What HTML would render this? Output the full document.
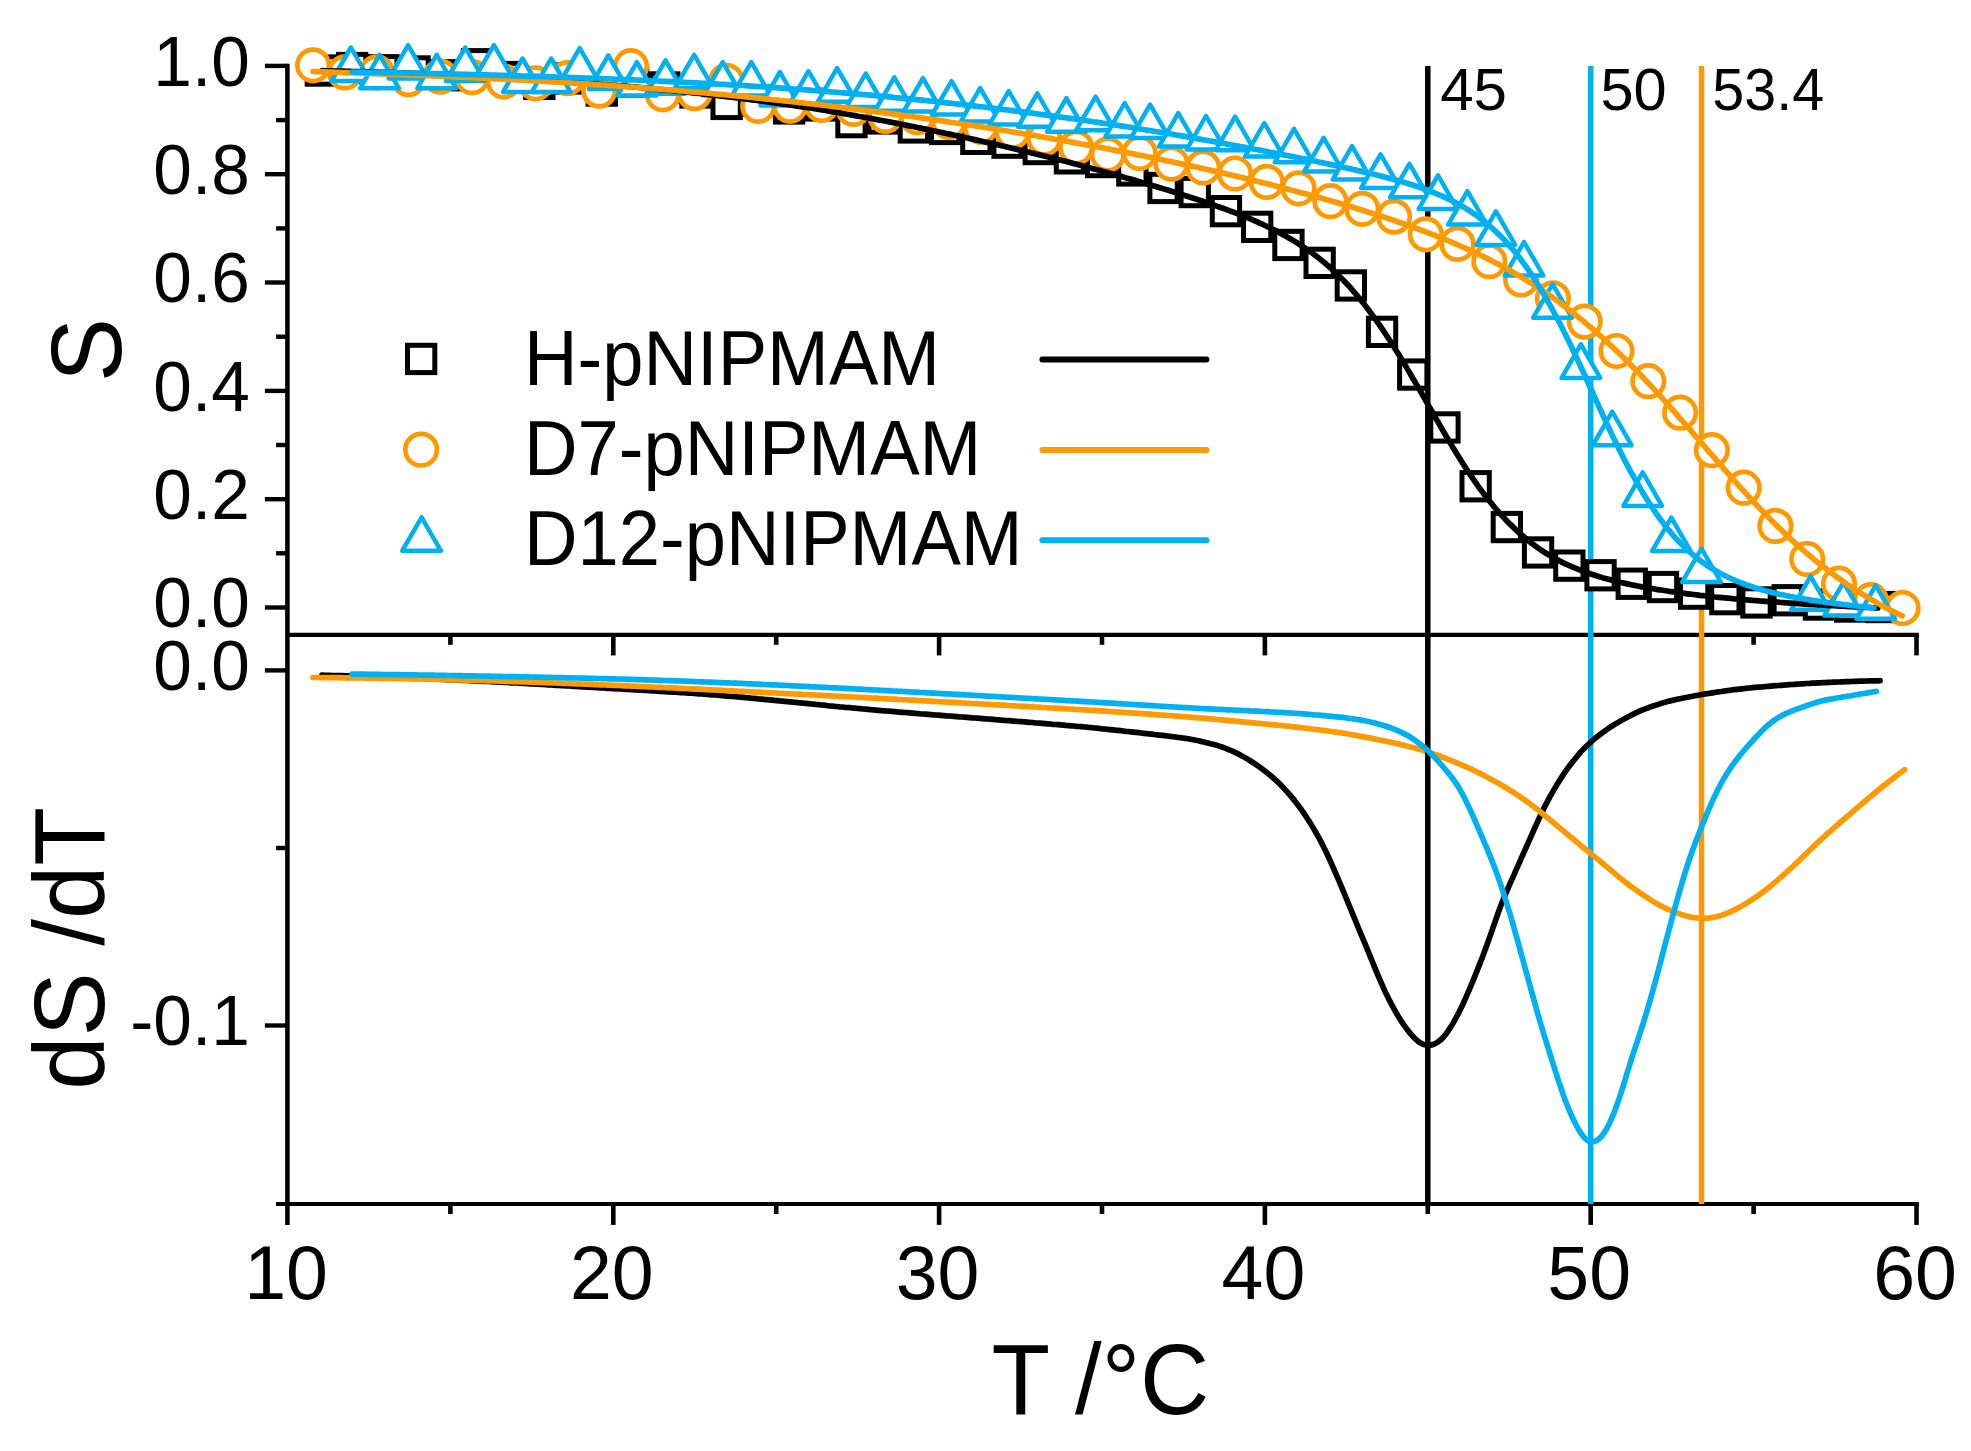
<!DOCTYPE html>
<html lang="en"><head><meta charset="utf-8"><title>S and dS/dT vs T</title>
<style>html,body{margin:0;padding:0;background:#fff}svg{display:block}</style></head>
<body>
<svg width="1971" height="1451" viewBox="0 0 1971 1451">
<rect width="1971" height="1451" fill="#fff"/>
<g stroke="#000" fill="none"><line x1="287.4" y1="63.7" x2="287.4" y2="1224.9" stroke-width="4.55"/><line x1="264.9" y1="607.5" x2="287.4" y2="607.5" stroke-width="4.4"/><line x1="276.1" y1="553.3" x2="287.4" y2="553.3" stroke-width="4.4"/><line x1="264.9" y1="499.2" x2="287.4" y2="499.2" stroke-width="4.4"/><line x1="276.1" y1="445" x2="287.4" y2="445" stroke-width="4.4"/><line x1="264.9" y1="390.9" x2="287.4" y2="390.9" stroke-width="4.4"/><line x1="276.1" y1="336.7" x2="287.4" y2="336.7" stroke-width="4.4"/><line x1="264.9" y1="282.5" x2="287.4" y2="282.5" stroke-width="4.4"/><line x1="276.1" y1="228.4" x2="287.4" y2="228.4" stroke-width="4.4"/><line x1="264.9" y1="174.2" x2="287.4" y2="174.2" stroke-width="4.4"/><line x1="276.1" y1="120.1" x2="287.4" y2="120.1" stroke-width="4.4"/><line x1="264.9" y1="65.9" x2="287.4" y2="65.9" stroke-width="4.4"/><line x1="264.9" y1="670.4" x2="287.4" y2="670.4" stroke-width="4.4"/><line x1="276.1" y1="848" x2="287.4" y2="848" stroke-width="4.4"/><line x1="264.9" y1="1025.5" x2="287.4" y2="1025.5" stroke-width="4.4"/><line x1="287.4" y1="634.9" x2="1918.8" y2="634.9" stroke-width="4.1"/><line x1="276.05" y1="1203.95" x2="1918.8" y2="1203.95" stroke-width="4.05"/><line x1="450.4" y1="634.9" x2="450.4" y2="644.8" stroke-width="4.6"/><line x1="450.4" y1="1203.95" x2="450.4" y2="1214.0" stroke-width="4.6"/><line x1="613.3" y1="634.9" x2="613.3" y2="655.4" stroke-width="4.6"/><line x1="613.3" y1="1203.95" x2="613.3" y2="1224.9" stroke-width="4.6"/><line x1="776.2" y1="634.9" x2="776.2" y2="644.8" stroke-width="4.6"/><line x1="776.2" y1="1203.95" x2="776.2" y2="1214.0" stroke-width="4.6"/><line x1="939.1" y1="634.9" x2="939.1" y2="655.4" stroke-width="4.6"/><line x1="939.1" y1="1203.95" x2="939.1" y2="1224.9" stroke-width="4.6"/><line x1="1102" y1="634.9" x2="1102" y2="644.8" stroke-width="4.6"/><line x1="1102" y1="1203.95" x2="1102" y2="1214.0" stroke-width="4.6"/><line x1="1264.9" y1="634.9" x2="1264.9" y2="655.4" stroke-width="4.6"/><line x1="1264.9" y1="1203.95" x2="1264.9" y2="1224.9" stroke-width="4.6"/><line x1="1427.8" y1="634.9" x2="1427.8" y2="644.8" stroke-width="4.6"/><line x1="1427.8" y1="1203.95" x2="1427.8" y2="1214.0" stroke-width="4.6"/><line x1="1590.7" y1="634.9" x2="1590.7" y2="655.4" stroke-width="4.6"/><line x1="1590.7" y1="1203.95" x2="1590.7" y2="1224.9" stroke-width="4.6"/><line x1="1753.6" y1="634.9" x2="1753.6" y2="644.8" stroke-width="4.6"/><line x1="1753.6" y1="1203.95" x2="1753.6" y2="1214.0" stroke-width="4.6"/><line x1="1916.5" y1="634.9" x2="1916.5" y2="655.4" stroke-width="4.6"/><line x1="1916.5" y1="1203.95" x2="1916.5" y2="1224.9" stroke-width="4.6"/></g>
<line x1="1590.7" y1="66" x2="1590.7" y2="1204" stroke="#00B0F0" stroke-width="5.5"/>
<line x1="1701.5" y1="66" x2="1701.5" y2="1204" stroke="#FF9900" stroke-width="5.5"/>
<line x1="1427.8" y1="66" x2="1427.8" y2="634.9" stroke="#000000" stroke-width="5.5"/>
<g fill="#fff" stroke="#000000" stroke-width="5"><rect x="307.2" y="56.9" width="27.3" height="27.3"/><rect x="338.5" y="54.4" width="27.3" height="27.3"/><rect x="369.7" y="56.6" width="27.3" height="27.3"/><rect x="400.9" y="57.8" width="27.3" height="27.3"/><rect x="432.1" y="61.6" width="27.3" height="27.3"/><rect x="463.3" y="50.6" width="27.3" height="27.3"/><rect x="494.5" y="63.4" width="27.3" height="27.3"/><rect x="525.7" y="70.2" width="27.3" height="27.3"/><rect x="556.9" y="64.8" width="27.3" height="27.3"/><rect x="588.1" y="76.9" width="27.3" height="27.3"/><rect x="619.4" y="67.8" width="27.3" height="27.3"/><rect x="650.6" y="73.8" width="27.3" height="27.3"/><rect x="681.8" y="78.8" width="27.3" height="27.3"/><rect x="713" y="90.3" width="27.3" height="27.3"/><rect x="744.2" y="86.9" width="27.3" height="27.3"/><rect x="775.4" y="94.8" width="27.3" height="27.3"/><rect x="806.6" y="91.8" width="27.3" height="27.3"/><rect x="837.8" y="108.5" width="27.3" height="27.3"/><rect x="869" y="104.8" width="27.3" height="27.3"/><rect x="900.2" y="113.8" width="27.3" height="27.3"/><rect x="931.5" y="115.3" width="27.3" height="27.3"/><rect x="962.7" y="125.2" width="27.3" height="27.3"/><rect x="993.9" y="129" width="27.3" height="27.3"/><rect x="1025.1" y="135.4" width="27.3" height="27.3"/><rect x="1056.3" y="144.7" width="27.3" height="27.3"/><rect x="1087.5" y="148.4" width="27.3" height="27.3"/><rect x="1118.7" y="156.8" width="27.3" height="27.3"/><rect x="1149.9" y="174.3" width="27.3" height="27.3"/><rect x="1181.1" y="178.4" width="27.3" height="27.3"/><rect x="1212.3" y="197.5" width="27.3" height="27.3"/><rect x="1243.5" y="213.2" width="27.3" height="27.3"/><rect x="1274.8" y="231.3" width="27.3" height="27.3"/><rect x="1306" y="249.2" width="27.3" height="27.3"/><rect x="1337.2" y="271.8" width="27.3" height="27.3"/><rect x="1368.4" y="318.2" width="27.3" height="27.3"/><rect x="1399.6" y="360.9" width="27.3" height="27.3"/><rect x="1430.8" y="413.8" width="27.3" height="27.3"/><rect x="1462" y="472.6" width="27.3" height="27.3"/><rect x="1493.2" y="513.4" width="27.3" height="27.3"/><rect x="1524.4" y="538.8" width="27.3" height="27.3"/><rect x="1555.7" y="552" width="27.3" height="27.3"/><rect x="1586.9" y="561.6" width="27.3" height="27.3"/><rect x="1618.1" y="570.1" width="27.3" height="27.3"/><rect x="1649.3" y="573.4" width="27.3" height="27.3"/><rect x="1680.5" y="580" width="27.3" height="27.3"/><rect x="1711.7" y="585.5" width="27.3" height="27.3"/><rect x="1742.9" y="588.8" width="27.3" height="27.3"/><rect x="1774.1" y="586.6" width="27.3" height="27.3"/><rect x="1805.3" y="590.9" width="27.3" height="27.3"/><rect x="1836.5" y="592.9" width="27.3" height="27.3"/><rect x="1867.8" y="593.4" width="27.3" height="27.3"/></g>
<g fill="#fff" stroke="#FF9900" stroke-width="4.7"><circle cx="313.1" cy="65.3" r="15.75"/><circle cx="344.9" cy="72.4" r="15.75"/><circle cx="376.7" cy="72.3" r="15.75"/><circle cx="408.5" cy="79.1" r="15.75"/><circle cx="440.3" cy="76.6" r="15.75"/><circle cx="472.1" cy="77.2" r="15.75"/><circle cx="503.8" cy="81.5" r="15.75"/><circle cx="535.6" cy="83.3" r="15.75"/><circle cx="567.4" cy="78.1" r="15.75"/><circle cx="599.2" cy="90.6" r="15.75"/><circle cx="631" cy="66.2" r="15.75"/><circle cx="662.8" cy="94.3" r="15.75"/><circle cx="694.6" cy="93.1" r="15.75"/><circle cx="726.4" cy="80.8" r="15.75"/><circle cx="758.2" cy="105.9" r="15.75"/><circle cx="790" cy="105.8" r="15.75"/><circle cx="821.7" cy="105" r="15.75"/><circle cx="853.5" cy="108.9" r="15.75"/><circle cx="885.3" cy="115.9" r="15.75"/><circle cx="917.1" cy="117.3" r="15.75"/><circle cx="948.9" cy="121.9" r="15.75"/><circle cx="980.7" cy="126.8" r="15.75"/><circle cx="1012.5" cy="131.9" r="15.75"/><circle cx="1044.3" cy="138.5" r="15.75"/><circle cx="1076.1" cy="147.6" r="15.75"/><circle cx="1107.8" cy="154.5" r="15.75"/><circle cx="1139.6" cy="153" r="15.75"/><circle cx="1171.4" cy="163.6" r="15.75"/><circle cx="1203.2" cy="167.4" r="15.75"/><circle cx="1235" cy="173.5" r="15.75"/><circle cx="1266.8" cy="181.9" r="15.75"/><circle cx="1298.6" cy="188.3" r="15.75"/><circle cx="1330.4" cy="201.2" r="15.75"/><circle cx="1362.2" cy="208.8" r="15.75"/><circle cx="1394" cy="216.6" r="15.75"/><circle cx="1425.8" cy="234.3" r="15.75"/><circle cx="1457.5" cy="243.9" r="15.75"/><circle cx="1489.3" cy="261.2" r="15.75"/><circle cx="1521.1" cy="279.4" r="15.75"/><circle cx="1552.9" cy="298.4" r="15.75"/><circle cx="1584.7" cy="321.6" r="15.75"/><circle cx="1616.5" cy="351" r="15.75"/><circle cx="1648.3" cy="381.2" r="15.75"/><circle cx="1680.1" cy="412.7" r="15.75"/><circle cx="1711.9" cy="450.2" r="15.75"/><circle cx="1743.7" cy="487.7" r="15.75"/><circle cx="1775.4" cy="525.9" r="15.75"/><circle cx="1807.2" cy="559" r="15.75"/><circle cx="1839" cy="583.7" r="15.75"/><circle cx="1870.8" cy="600.2" r="15.75"/><circle cx="1902.6" cy="608" r="15.75"/></g>
<g fill="#fff" stroke="#00B0F0" stroke-width="4.5" stroke-linejoin="round"><path d="M350.9 47.5L370.2 81L331.5 81Z"/><path d="M379.5 54.8L398.9 88.3L360.1 88.3Z"/><path d="M408.1 45.1L427.4 78.6L388.7 78.6Z"/><path d="M436.7 54.8L456.1 88.3L417.3 88.3Z"/><path d="M465.3 47.5L484.6 81L445.9 81Z"/><path d="M493.9 45.1L513.2 78.6L474.5 78.6Z"/><path d="M522.5 58.5L541.9 92L503.1 92Z"/><path d="M551.1 58.5L570.5 92L531.8 92Z"/><path d="M579.7 48.1L599.1 81.6L560.4 81.6Z"/><path d="M608.3 55.4L627.6 88.9L588.9 88.9Z"/><path d="M636.9 62.1L656.2 95.6L617.5 95.6Z"/><path d="M665.5 60.3L684.9 93.8L646.1 93.8Z"/><path d="M694.1 54.8L713.5 88.3L674.8 88.3Z"/><path d="M722.7 62.1L742.1 95.6L703.4 95.6Z"/><path d="M751.3 62.1L770.6 95.6L731.9 95.6Z"/><path d="M779.9 72L799.2 105.5L760.5 105.5Z"/><path d="M808.5 71.2L827.9 104.7L789.1 104.7Z"/><path d="M837.1 68.2L856.5 101.7L817.8 101.7Z"/><path d="M865.7 73.5L885.1 107L846.4 107Z"/><path d="M894.3 77.3L913.6 110.8L874.9 110.8Z"/><path d="M922.9 78.1L942.2 111.6L903.5 111.6Z"/><path d="M951.5 81.1L970.9 114.6L932.1 114.6Z"/><path d="M980.1 88L999.5 121.5L960.8 121.5Z"/><path d="M1008.7 91L1028 124.5L989.4 124.5Z"/><path d="M1037.3 93.3L1056.7 126.8L1018 126.8Z"/><path d="M1066.4 98.2L1085.8 131.7L1047.1 131.7Z"/><path d="M1095.6 96.7L1114.9 130.2L1076.2 130.2Z"/><path d="M1124.7 103L1144 136.5L1105.4 136.5Z"/><path d="M1150.1 104.6L1169.4 138.1L1130.8 138.1Z"/><path d="M1178.3 113.1L1197.6 146.6L1159 146.6Z"/><path d="M1206 116L1225.3 149.5L1186.7 149.5Z"/><path d="M1235.1 116.7L1254.4 150.2L1215.8 150.2Z"/><path d="M1264.3 123L1283.6 156.5L1245 156.5Z"/><path d="M1294 128.8L1313.3 162.3L1274.7 162.3Z"/><path d="M1323.6 137.9L1342.9 171.4L1304.2 171.4Z"/><path d="M1352 146.1L1371.3 179.6L1332.7 179.6Z"/><path d="M1380.6 154.4L1399.9 187.9L1361.2 187.9Z"/><path d="M1409.4 163.8L1428.8 197.3L1390.1 197.3Z"/><path d="M1438 175.4L1457.3 208.9L1418.7 208.9Z"/><path d="M1467.4 191.1L1486.8 224.6L1448.1 224.6Z"/><path d="M1495.9 211.4L1515.2 244.9L1476.6 244.9Z"/><path d="M1524 242L1543.3 275.5L1504.7 275.5Z"/><path d="M1552.6 284.2L1571.9 317.7L1533.2 317.7Z"/><path d="M1580.9 344.4L1600.2 377.9L1561.6 377.9Z"/><path d="M1612.2 411.7L1631.5 445.2L1592.9 445.2Z"/><path d="M1642.7 472.4L1662 505.9L1623.4 505.9Z"/><path d="M1671.3 517.6L1690.6 551.1L1652 551.1Z"/><path d="M1701.5 548.5L1720.8 582L1682.2 582Z"/><path d="M1810.6 576.3L1829.9 609.8L1791.2 609.8Z"/><path d="M1843.5 582.1L1862.8 615.6L1824.2 615.6Z"/><path d="M1875.7 585.3L1895 618.8L1856.4 618.8Z"/></g>
<path d="M322 70.7L325.1 70.8L328.2 70.8L331.4 70.9L334.5 71L337.6 71.1L340.7 71.1L343.8 71.2L346.9 71.3L350.1 71.4L353.2 71.5L356.3 71.5L359.4 71.6L362.5 71.7L365.6 71.8L368.8 71.9L371.9 72L375 72.1L378.1 72.2L381.2 72.3L384.4 72.4L387.5 72.5L390.6 72.6L393.7 72.7L396.8 72.8L399.9 72.9L403.1 73L406.2 73.1L409.3 73.2L412.4 73.3L415.5 73.4L418.6 73.5L421.8 73.6L424.9 73.8L428 73.9L431.1 74L434.2 74.1L437.3 74.3L440.5 74.4L443.6 74.5L446.7 74.6L449.8 74.8L452.9 74.9L456.1 75.1L459.2 75.2L462.3 75.3L465.4 75.5L468.5 75.6L471.6 75.8L474.8 75.9L477.9 76.1L481 76.2L484.1 76.4L487.2 76.6L490.3 76.7L493.5 76.9L496.6 77.1L499.7 77.2L502.8 77.4L505.9 77.6L509.1 77.7L512.2 77.9L515.3 78.1L518.4 78.3L521.5 78.5L524.6 78.7L527.8 78.9L530.9 79.1L534 79.3L537.1 79.5L540.2 79.7L543.3 79.9L546.5 80.1L549.6 80.3L552.7 80.5L555.8 80.7L558.9 80.9L562.1 81.1L565.2 81.4L568.3 81.6L571.4 81.8L574.5 82.1L577.6 82.3L580.8 82.5L583.9 82.8L587 83L590.1 83.2L593.2 83.5L596.3 83.7L599.5 84L602.6 84.3L605.7 84.5L608.8 84.8L611.9 85L615.1 85.3L618.2 85.6L621.3 85.8L624.4 86.1L627.5 86.4L630.6 86.7L633.8 86.9L636.9 87.2L640 87.5L643.1 87.8L646.2 88.1L649.3 88.4L652.5 88.7L655.6 89L658.7 89.3L661.8 89.6L664.9 89.9L668 90.2L671.2 90.5L674.3 90.8L677.4 91.2L680.5 91.5L683.6 91.8L686.8 92.1L689.9 92.5L693 92.8L696.1 93.1L699.2 93.5L702.3 93.8L705.5 94.2L708.6 94.5L711.7 94.9L714.8 95.2L717.9 95.6L721 95.9L724.2 96.3L727.3 96.7L730.4 97.1L733.5 97.4L736.6 97.8L739.8 98.2L742.9 98.6L746 99L749.1 99.4L752.2 99.8L755.3 100.2L758.5 100.6L761.6 101L764.7 101.5L767.8 101.9L770.9 102.3L774 102.8L777.2 103.2L780.3 103.6L783.4 104.1L786.5 104.5L789.6 105L792.8 105.5L795.9 105.9L799 106.4L802.1 106.9L805.2 107.3L808.3 107.8L811.5 108.3L814.6 108.8L817.7 109.3L820.8 109.8L823.9 110.3L827 110.8L830.2 111.3L833.3 111.9L836.4 112.4L839.5 112.9L842.6 113.4L845.7 114L848.9 114.5L852 115.1L855.1 115.6L858.2 116.2L861.3 116.7L864.5 117.3L867.6 117.9L870.7 118.4L873.8 119L876.9 119.6L880 120.2L883.2 120.8L886.3 121.3L889.4 121.9L892.5 122.5L895.6 123.1L898.7 123.7L901.9 124.4L905 125L908.1 125.6L911.2 126.2L914.3 126.8L917.5 127.5L920.6 128.1L923.7 128.7L926.8 129.4L929.9 130L933 130.7L936.2 131.3L939.3 132L942.4 132.6L945.5 133.3L948.6 133.9L951.7 134.6L954.9 135.3L958 135.9L961.1 136.6L964.2 137.3L967.3 138L970.5 138.7L973.6 139.4L976.7 140.1L979.8 140.8L982.9 141.5L986 142.2L989.2 142.9L992.3 143.6L995.4 144.3L998.5 145L1001.6 145.8L1004.7 146.5L1007.9 147.2L1011 148L1014.1 148.7L1017.2 149.4L1020.3 150.2L1023.5 150.9L1026.6 151.7L1029.7 152.4L1032.8 153.2L1035.9 154L1039 154.7L1042.2 155.5L1045.3 156.3L1048.4 157.1L1051.5 157.8L1054.6 158.6L1057.7 159.4L1060.9 160.2L1064 161L1067.1 161.8L1070.2 162.6L1073.3 163.4L1076.4 164.2L1079.6 165.1L1082.7 165.9L1085.8 166.7L1088.9 167.5L1092 168.4L1095.2 169.2L1098.3 170L1101.4 170.9L1104.5 171.7L1107.6 172.6L1110.7 173.5L1113.9 174.3L1117 175.2L1120.1 176.1L1123.2 177L1126.3 177.9L1129.4 178.7L1132.6 179.6L1135.7 180.5L1138.8 181.4L1141.9 182.4L1145 183.3L1148.2 184.2L1151.3 185.1L1154.4 186.1L1157.5 187L1160.6 187.9L1163.7 188.9L1166.9 189.8L1170 190.8L1173.1 191.8L1176.2 192.7L1179.3 193.7L1182.4 194.7L1185.6 195.7L1188.7 196.7L1191.8 197.7L1194.9 198.7L1198 199.7L1201.2 200.8L1204.3 201.8L1207.4 202.8L1210.5 203.9L1213.6 205L1216.7 206.1L1219.9 207.2L1223 208.3L1226.1 209.4L1229.2 210.6L1232.3 211.7L1235.4 212.9L1238.6 214.1L1241.7 215.4L1244.8 216.6L1247.9 217.9L1251 219.2L1254.2 220.6L1257.3 221.9L1260.4 223.3L1263.5 224.8L1266.6 226.3L1269.7 227.8L1272.9 229.3L1276 230.9L1279.1 232.5L1282.2 234.2L1285.3 235.9L1288.4 237.7L1291.6 239.5L1294.7 241.4L1297.8 243.3L1300.9 245.3L1304 247.3L1307.1 249.5L1310.3 251.7L1313.4 253.9L1316.5 256.3L1319.6 258.7L1322.7 261.2L1325.9 263.8L1329 266.5L1332.1 269.3L1335.2 272.2L1338.3 275.2L1341.4 278.3L1344.6 281.5L1347.7 284.8L1350.8 288.2L1353.9 291.8L1357 295.4L1360.1 299.2L1363.3 303.1L1366.4 307.1L1369.5 311.2L1372.6 315.4L1375.7 319.7L1378.9 324.1L1382 328.6L1385.1 333.3L1388.2 338L1391.3 342.8L1394.4 347.7L1397.6 352.7L1400.7 357.8L1403.8 362.9L1406.9 368.1L1410 373.4L1413.1 378.7L1416.3 384.1L1419.4 389.5L1422.5 394.9L1425.6 400.4L1428.7 405.9L1431.9 411.3L1435 416.8L1438.1 422.2L1441.2 427.6L1444.3 433L1447.4 438.3L1450.6 443.6L1453.7 448.7L1456.8 453.8L1459.9 458.8L1463 463.7L1466.1 468.6L1469.3 473.3L1472.4 477.9L1475.5 482.4L1478.6 486.8L1481.7 491L1484.8 495.2L1488 499.2L1491.1 503.1L1494.2 506.9L1497.3 510.5L1500.4 514L1503.6 517.4L1506.7 520.7L1509.8 523.9L1512.9 526.9L1516 529.9L1519.1 532.8L1522.3 535.5L1525.4 538.2L1528.5 540.7L1531.6 543.2L1534.7 545.6L1537.8 547.8L1541 550L1544.1 552L1547.2 554L1550.3 555.8L1553.4 557.6L1556.6 559.4L1559.7 561L1562.8 562.6L1565.9 564.1L1569 565.5L1572.1 566.9L1575.3 568.2L1578.4 569.4L1581.5 570.6L1584.6 571.8L1587.7 572.9L1590.8 574L1594 575L1597.1 576L1600.2 576.9L1603.3 577.9L1606.4 578.7L1609.6 579.6L1612.7 580.4L1615.8 581.2L1618.9 582L1622 582.7L1625.1 583.4L1628.3 584.1L1631.4 584.8L1634.5 585.4L1637.6 586L1640.7 586.6L1643.8 587.2L1647 587.8L1650.1 588.3L1653.2 588.8L1656.3 589.4L1659.4 589.8L1662.6 590.3L1665.7 590.8L1668.8 591.3L1671.9 591.7L1675 592.1L1678.1 592.6L1681.3 593L1684.4 593.4L1687.5 593.8L1690.6 594.2L1693.7 594.5L1696.8 594.9L1700 595.3L1703.1 595.6L1706.2 596L1709.3 596.3L1712.4 596.6L1715.5 597L1718.7 597.3L1721.8 597.6L1724.9 597.9L1728 598.2L1731.1 598.5L1734.3 598.8L1737.4 599L1740.5 599.3L1743.6 599.6L1746.7 599.8L1749.8 600.1L1753 600.4L1756.1 600.6L1759.2 600.9L1762.3 601.1L1765.4 601.3L1768.5 601.6L1771.7 601.8L1774.8 602L1777.9 602.2L1781 602.5L1784.1 602.7L1787.3 602.9L1790.4 603.1L1793.5 603.3L1796.6 603.5L1799.7 603.7L1802.8 603.9L1806 604.1L1809.1 604.3L1812.2 604.5L1815.3 604.7L1818.4 604.8L1821.5 605L1824.7 605.2L1827.8 605.4L1830.9 605.6L1834 605.7L1837.1 605.9L1840.3 606.1L1843.4 606.2L1846.5 606.4L1849.6 606.6L1852.7 606.7L1855.8 606.9L1859 607L1862.1 607.2L1865.2 607.4L1868.3 607.5L1871.4 607.7L1874.5 607.8L1877.7 608" fill="none" stroke="#000000" stroke-width="5.7" stroke-linecap="round" stroke-linejoin="round"/>
<path d="M313 71.5L316.2 71.6L319.4 71.7L322.6 71.8L325.7 71.9L328.9 72L332.1 72.1L335.3 72.3L338.5 72.4L341.7 72.5L344.8 72.6L348 72.7L351.2 72.8L354.4 72.9L357.6 73L360.8 73.1L364 73.3L367.1 73.4L370.3 73.5L373.5 73.6L376.7 73.7L379.9 73.8L383.1 73.9L386.2 74.1L389.4 74.2L392.6 74.3L395.8 74.4L399 74.5L402.2 74.7L405.4 74.8L408.5 74.9L411.7 75L414.9 75.2L418.1 75.3L421.3 75.4L424.5 75.5L427.6 75.7L430.8 75.8L434 75.9L437.2 76.1L440.4 76.2L443.6 76.3L446.8 76.5L449.9 76.6L453.1 76.8L456.3 76.9L459.5 77L462.7 77.2L465.9 77.3L469 77.5L472.2 77.6L475.4 77.8L478.6 77.9L481.8 78.1L485 78.2L488.2 78.4L491.3 78.5L494.5 78.7L497.7 78.8L500.9 79L504.1 79.2L507.3 79.3L510.4 79.5L513.6 79.7L516.8 79.8L520 80L523.2 80.2L526.4 80.3L529.6 80.5L532.7 80.7L535.9 80.9L539.1 81L542.3 81.2L545.5 81.4L548.7 81.6L551.8 81.8L555 82L558.2 82.1L561.4 82.3L564.6 82.5L567.8 82.7L571 82.9L574.1 83.1L577.3 83.3L580.5 83.5L583.7 83.7L586.9 83.9L590.1 84.1L593.2 84.4L596.4 84.6L599.6 84.8L602.8 85L606 85.2L609.2 85.4L612.4 85.6L615.5 85.9L618.7 86.1L621.9 86.3L625.1 86.5L628.3 86.8L631.5 87L634.6 87.2L637.8 87.5L641 87.7L644.2 88L647.4 88.2L650.6 88.5L653.8 88.7L656.9 88.9L660.1 89.2L663.3 89.5L666.5 89.7L669.7 90L672.9 90.2L676 90.5L679.2 90.8L682.4 91L685.6 91.3L688.8 91.6L692 91.8L695.2 92.1L698.3 92.4L701.5 92.7L704.7 93L707.9 93.2L711.1 93.5L714.3 93.8L717.4 94.1L720.6 94.4L723.8 94.7L727 95L730.2 95.3L733.4 95.6L736.6 95.9L739.7 96.2L742.9 96.5L746.1 96.9L749.3 97.2L752.5 97.5L755.7 97.8L758.8 98.1L762 98.5L765.2 98.8L768.4 99.1L771.6 99.5L774.8 99.8L778 100.1L781.1 100.5L784.3 100.8L787.5 101.2L790.7 101.5L793.9 101.9L797.1 102.2L800.2 102.6L803.4 102.9L806.6 103.3L809.8 103.6L813 104L816.2 104.4L819.4 104.7L822.5 105.1L825.7 105.5L828.9 105.9L832.1 106.3L835.3 106.6L838.5 107L841.6 107.4L844.8 107.8L848 108.2L851.2 108.6L854.4 109L857.6 109.4L860.7 109.8L863.9 110.2L867.1 110.6L870.3 111L873.5 111.4L876.7 111.8L879.9 112.2L883 112.7L886.2 113.1L889.4 113.5L892.6 113.9L895.8 114.4L899 114.8L902.1 115.2L905.3 115.7L908.5 116.1L911.7 116.5L914.9 117L918.1 117.4L921.3 117.9L924.4 118.3L927.6 118.8L930.8 119.3L934 119.7L937.2 120.2L940.4 120.6L943.5 121.1L946.7 121.6L949.9 122.1L953.1 122.5L956.3 123L959.5 123.5L962.7 124L965.8 124.5L969 124.9L972.2 125.4L975.4 125.9L978.6 126.4L981.8 126.9L984.9 127.4L988.1 127.9L991.3 128.4L994.5 129L997.7 129.5L1000.9 130L1004.1 130.5L1007.2 131L1010.4 131.5L1013.6 132.1L1016.8 132.6L1020 133.1L1023.2 133.7L1026.3 134.2L1029.5 134.7L1032.7 135.3L1035.9 135.8L1039.1 136.4L1042.3 136.9L1045.5 137.5L1048.6 138L1051.8 138.6L1055 139.2L1058.2 139.7L1061.4 140.3L1064.6 140.9L1067.7 141.4L1070.9 142L1074.1 142.6L1077.3 143.2L1080.5 143.8L1083.7 144.3L1086.9 144.9L1090 145.5L1093.2 146.1L1096.4 146.7L1099.6 147.3L1102.8 147.9L1106 148.5L1109.1 149.1L1112.3 149.7L1115.5 150.4L1118.7 151L1121.9 151.6L1125.1 152.2L1128.3 152.9L1131.4 153.5L1134.6 154.1L1137.8 154.8L1141 155.4L1144.2 156L1147.4 156.7L1150.5 157.3L1153.7 158L1156.9 158.7L1160.1 159.3L1163.3 160L1166.5 160.7L1169.7 161.3L1172.8 162L1176 162.7L1179.2 163.4L1182.4 164.1L1185.6 164.7L1188.8 165.4L1191.9 166.1L1195.1 166.8L1198.3 167.5L1201.5 168.3L1204.7 169L1207.9 169.7L1211.1 170.4L1214.2 171.1L1217.4 171.9L1220.6 172.6L1223.8 173.3L1227 174.1L1230.2 174.8L1233.3 175.6L1236.5 176.3L1239.7 177.1L1242.9 177.8L1246.1 178.6L1249.3 179.4L1252.5 180.2L1255.6 180.9L1258.8 181.7L1262 182.5L1265.2 183.3L1268.4 184.1L1271.6 184.9L1274.7 185.7L1277.9 186.6L1281.1 187.4L1284.3 188.2L1287.5 189L1290.7 189.9L1293.9 190.7L1297 191.5L1300.2 192.4L1303.4 193.2L1306.6 194.1L1309.8 195L1313 195.8L1316.1 196.7L1319.3 197.6L1322.5 198.5L1325.7 199.4L1328.9 200.3L1332.1 201.2L1335.3 202.1L1338.4 203L1341.6 204L1344.8 204.9L1348 205.9L1351.2 206.8L1354.4 207.8L1357.5 208.7L1360.7 209.7L1363.9 210.7L1367.1 211.7L1370.3 212.7L1373.5 213.7L1376.7 214.7L1379.8 215.8L1383 216.8L1386.2 217.9L1389.4 218.9L1392.6 220L1395.8 221.1L1398.9 222.2L1402.1 223.3L1405.3 224.4L1408.5 225.5L1411.7 226.7L1414.9 227.8L1418.1 229L1421.2 230.2L1424.4 231.3L1427.6 232.6L1430.8 233.8L1434 235L1437.2 236.3L1440.3 237.5L1443.5 238.8L1446.7 240.1L1449.9 241.5L1453.1 242.8L1456.3 244.2L1459.5 245.6L1462.6 247L1465.8 248.4L1469 249.8L1472.2 251.3L1475.4 252.8L1478.6 254.3L1481.7 255.8L1484.9 257.4L1488.1 259L1491.3 260.6L1494.5 262.2L1497.7 263.9L1500.9 265.6L1504 267.3L1507.2 269.1L1510.4 270.8L1513.6 272.6L1516.8 274.5L1520 276.3L1523.1 278.2L1526.3 280.2L1529.5 282.1L1532.7 284.1L1535.9 286.2L1539.1 288.3L1542.3 290.4L1545.4 292.5L1548.6 294.7L1551.8 296.9L1555 299.2L1558.2 301.5L1561.4 303.9L1564.5 306.3L1567.7 308.7L1570.9 311.2L1574.1 313.7L1577.3 316.2L1580.5 318.8L1583.7 321.4L1586.8 324.1L1590 326.8L1593.2 329.5L1596.4 332.3L1599.6 335.1L1602.8 338L1605.9 340.9L1609.1 343.8L1612.3 346.8L1615.5 349.8L1618.7 352.9L1621.9 356L1625.1 359.1L1628.2 362.3L1631.4 365.5L1634.6 368.7L1637.8 372L1641 375.3L1644.2 378.7L1647.3 382L1650.5 385.4L1653.7 388.9L1656.9 392.3L1660.1 395.8L1663.3 399.3L1666.5 402.9L1669.6 406.4L1672.8 410L1676 413.6L1679.2 417.3L1682.4 420.9L1685.6 424.5L1688.7 428.2L1691.9 431.9L1695.1 435.6L1698.3 439.2L1701.5 442.9L1704.7 446.6L1707.9 450.3L1711 454L1714.2 457.7L1717.4 461.4L1720.6 465L1723.8 468.7L1727 472.3L1730.1 475.9L1733.3 479.5L1736.5 483.1L1739.7 486.6L1742.9 490.1L1746.1 493.6L1749.3 497.1L1752.4 500.5L1755.6 503.9L1758.8 507.3L1762 510.6L1765.2 513.9L1768.4 517.2L1771.5 520.4L1774.7 523.6L1777.9 526.7L1781.1 529.8L1784.3 532.9L1787.5 535.9L1790.7 538.9L1793.8 541.8L1797 544.7L1800.2 547.5L1803.4 550.3L1806.6 553.1L1809.8 555.8L1812.9 558.4L1816.1 561L1819.3 563.6L1822.5 566.1L1825.7 568.6L1828.9 571.1L1832.1 573.5L1835.2 575.8L1838.4 578.1L1841.6 580.4L1844.8 582.6L1848 584.8L1851.2 586.9L1854.3 589.1L1857.5 591.1L1860.7 593.1L1863.9 595.1L1867.1 597.1L1870.3 599L1873.5 600.8L1876.6 602.7L1879.8 604.4L1883 606.2L1886.2 607.9L1889.4 609.6L1892.6 611.2L1895.7 612.8L1898.9 614.4L1902.1 615.9" fill="none" stroke="#FF9900" stroke-width="5.7" stroke-linecap="round" stroke-linejoin="round"/>
<path d="M352 72L355.1 72.1L358.1 72.1L361.2 72.2L364.2 72.2L367.3 72.3L370.3 72.3L373.4 72.4L376.4 72.4L379.5 72.5L382.5 72.6L385.6 72.6L388.6 72.7L391.7 72.7L394.7 72.8L397.8 72.9L400.8 72.9L403.9 73L406.9 73L410 73.1L413 73.2L416.1 73.2L419.1 73.3L422.2 73.4L425.2 73.4L428.3 73.5L431.3 73.6L434.4 73.6L437.4 73.7L440.5 73.8L443.5 73.8L446.6 73.9L449.6 74L452.7 74.1L455.7 74.1L458.8 74.2L461.8 74.3L464.9 74.4L467.9 74.4L471 74.5L474 74.6L477.1 74.7L480.1 74.8L483.2 74.8L486.2 74.9L489.3 75L492.3 75.1L495.4 75.2L498.4 75.3L501.5 75.3L504.5 75.4L507.6 75.5L510.6 75.6L513.7 75.7L516.7 75.8L519.8 75.9L522.8 76L525.9 76.1L528.9 76.1L532 76.2L535 76.3L538.1 76.4L541.1 76.5L544.2 76.6L547.2 76.7L550.3 76.8L553.3 76.9L556.4 77L559.4 77.1L562.5 77.2L565.5 77.3L568.6 77.4L571.6 77.6L574.7 77.7L577.7 77.8L580.8 77.9L583.8 78L586.9 78.1L589.9 78.2L593 78.3L596 78.4L599.1 78.6L602.1 78.7L605.2 78.8L608.2 78.9L611.3 79L614.3 79.2L617.4 79.3L620.4 79.4L623.5 79.5L626.5 79.6L629.6 79.8L632.6 79.9L635.7 80L638.7 80.2L641.8 80.3L644.8 80.4L647.9 80.6L650.9 80.7L654 80.8L657 81L660.1 81.1L663.1 81.3L666.2 81.4L669.2 81.6L672.3 81.7L675.3 81.9L678.4 82L681.4 82.2L684.5 82.3L687.5 82.5L690.6 82.6L693.6 82.8L696.7 82.9L699.7 83.1L702.8 83.3L705.8 83.4L708.9 83.6L711.9 83.8L715 83.9L718 84.1L721.1 84.3L724.1 84.4L727.2 84.6L730.2 84.8L733.3 85L736.3 85.2L739.4 85.3L742.4 85.5L745.5 85.7L748.5 85.9L751.6 86.1L754.6 86.3L757.7 86.5L760.7 86.7L763.8 86.9L766.8 87.1L769.9 87.3L772.9 87.5L776 87.7L779 87.9L782.1 88.1L785.1 88.3L788.2 88.6L791.2 88.8L794.3 89L797.3 89.2L800.4 89.4L803.4 89.7L806.5 89.9L809.5 90.1L812.6 90.4L815.6 90.6L818.7 90.8L821.7 91.1L824.8 91.3L827.8 91.5L830.9 91.8L833.9 92L837 92.3L840 92.5L843.1 92.8L846.1 93.1L849.2 93.3L852.2 93.6L855.3 93.8L858.3 94.1L861.4 94.4L864.4 94.6L867.5 94.9L870.5 95.2L873.6 95.5L876.6 95.7L879.7 96L882.7 96.3L885.8 96.6L888.8 96.9L891.9 97.2L894.9 97.5L898 97.8L901 98.1L904.1 98.4L907.1 98.7L910.2 99L913.2 99.3L916.3 99.6L919.3 99.9L922.4 100.2L925.4 100.5L928.5 100.9L931.5 101.2L934.6 101.5L937.6 101.8L940.7 102.2L943.7 102.5L946.8 102.8L949.8 103.2L952.9 103.5L955.9 103.8L959 104.2L962 104.5L965.1 104.9L968.1 105.2L971.2 105.6L974.2 105.9L977.3 106.3L980.3 106.7L983.4 107L986.4 107.4L989.5 107.7L992.5 108.1L995.6 108.5L998.6 108.9L1001.7 109.2L1004.7 109.6L1007.8 110L1010.8 110.4L1013.9 110.8L1016.9 111.2L1020 111.6L1023 111.9L1026.1 112.3L1029.1 112.7L1032.2 113.1L1035.2 113.5L1038.3 114L1041.3 114.4L1044.4 114.8L1047.4 115.2L1050.5 115.6L1053.5 116L1056.6 116.4L1059.6 116.9L1062.7 117.3L1065.7 117.7L1068.8 118.1L1071.8 118.6L1074.9 119L1077.9 119.5L1081 119.9L1084 120.3L1087.1 120.8L1090.1 121.2L1093.2 121.7L1096.2 122.1L1099.3 122.6L1102.3 123.1L1105.4 123.5L1108.4 124L1111.5 124.4L1114.5 124.9L1117.6 125.4L1120.6 125.9L1123.7 126.3L1126.7 126.8L1129.8 127.3L1132.8 127.8L1135.9 128.3L1138.9 128.8L1142 129.3L1145 129.8L1148.1 130.2L1151.1 130.7L1154.2 131.3L1157.2 131.8L1160.3 132.3L1163.3 132.8L1166.4 133.3L1169.4 133.8L1172.5 134.3L1175.5 134.9L1178.6 135.4L1181.6 135.9L1184.7 136.4L1187.7 137L1190.8 137.5L1193.8 138L1196.9 138.6L1199.9 139.1L1203 139.7L1206 140.2L1209.1 140.8L1212.1 141.3L1215.2 141.9L1218.2 142.4L1221.3 143L1224.3 143.5L1227.4 144.1L1230.4 144.7L1233.5 145.2L1236.5 145.8L1239.6 146.4L1242.6 146.9L1245.7 147.5L1248.7 148.1L1251.8 148.7L1254.8 149.2L1257.9 149.8L1260.9 150.4L1264 151L1267 151.6L1270.1 152.2L1273.1 152.8L1276.2 153.4L1279.2 154L1282.3 154.6L1285.3 155.2L1288.4 155.8L1291.4 156.4L1294.5 157L1297.5 157.6L1300.6 158.2L1303.6 158.8L1306.7 159.4L1309.7 160.1L1312.8 160.7L1315.8 161.3L1318.9 162L1321.9 162.6L1325 163.3L1328 163.9L1331.1 164.6L1334.1 165.2L1337.2 165.9L1340.2 166.5L1343.3 167.2L1346.3 167.9L1349.4 168.6L1352.4 169.3L1355.5 170L1358.5 170.7L1361.6 171.4L1364.6 172.1L1367.7 172.8L1370.7 173.5L1373.8 174.3L1376.8 175L1379.9 175.8L1382.9 176.6L1386 177.4L1389 178.2L1392.1 179L1395.1 179.8L1398.2 180.7L1401.2 181.6L1404.3 182.4L1407.3 183.4L1410.4 184.3L1413.4 185.3L1416.5 186.3L1419.5 187.3L1422.6 188.4L1425.6 189.5L1428.7 190.6L1431.7 191.8L1434.8 193L1437.8 194.3L1440.9 195.6L1443.9 196.9L1447 198.4L1450 199.8L1453.1 201.4L1456.1 202.9L1459.2 204.6L1462.2 206.3L1465.3 208.1L1468.3 210L1471.4 212L1474.4 214.1L1477.5 216.2L1480.5 218.5L1483.6 220.9L1486.6 223.4L1489.7 226L1492.7 228.7L1495.8 231.5L1498.8 234.4L1501.9 237.4L1504.9 240.6L1508 243.9L1511 247.4L1514.1 251L1517.1 254.7L1520.2 258.6L1523.2 262.7L1526.3 267L1529.3 271.3L1532.4 275.9L1535.4 280.6L1538.5 285.5L1541.5 290.5L1544.6 295.6L1547.6 300.9L1550.7 306.4L1553.7 312L1556.8 317.7L1559.8 323.5L1562.9 329.5L1565.9 335.6L1569 341.8L1572.1 348.2L1575.1 354.6L1578.2 361.1L1581.2 367.7L1584.3 374.3L1587.3 381L1590.4 387.7L1593.4 394.4L1596.5 401.2L1599.5 407.9L1602.6 414.5L1605.6 421.1L1608.7 427.7L1611.7 434.1L1614.8 440.5L1617.8 446.7L1620.9 452.8L1623.9 458.8L1627 464.6L1630 470.3L1633.1 475.8L1636.1 481.2L1639.2 486.5L1642.2 491.7L1645.3 496.7L1648.3 501.6L1651.4 506.3L1654.4 510.8L1657.5 515.3L1660.5 519.5L1663.6 523.6L1666.6 527.5L1669.7 531.2L1672.7 534.8L1675.8 538.3L1678.8 541.5L1681.9 544.6L1684.9 547.6L1688 550.4L1691 553.1L1694.1 555.7L1697.1 558.2L1700.2 560.5L1703.2 562.7L1706.3 564.8L1709.3 566.9L1712.4 568.8L1715.4 570.6L1718.5 572.3L1721.5 574L1724.6 575.5L1727.6 577L1730.7 578.5L1733.7 579.8L1736.8 581.1L1739.8 582.4L1742.9 583.5L1745.9 584.7L1749 585.8L1752 586.8L1755.1 587.8L1758.1 588.7L1761.2 589.6L1764.2 590.5L1767.3 591.3L1770.3 592.1L1773.4 592.8L1776.4 593.5L1779.5 594.2L1782.5 594.8L1785.6 595.5L1788.6 596.1L1791.7 596.7L1794.7 597.3L1797.8 597.8L1800.8 598.3L1803.9 598.9L1806.9 599.4L1810 599.9L1813 600.4L1816.1 600.8L1819.1 601.3L1822.2 601.7L1825.2 602.1L1828.3 602.6L1831.3 603L1834.4 603.4L1837.4 603.8L1840.5 604.2L1843.5 604.5L1846.6 604.9L1849.6 605.3L1852.7 605.6L1855.7 606L1858.8 606.3L1861.8 606.7L1864.9 607L1867.9 607.3L1871 607.7L1874 608" fill="none" stroke="#00B0F0" stroke-width="5.7" stroke-linecap="round" stroke-linejoin="round"/>
<path d="M322 675.2L324.6 675.3L327.2 675.3L329.8 675.4L332.4 675.5L335 675.5L337.6 675.6L340.2 675.7L342.8 675.7L345.4 675.8L348 675.9L350.6 676L353.2 676L355.8 676.1L358.4 676.2L361 676.3L363.6 676.4L366.2 676.4L368.8 676.5L371.4 676.6L374 676.7L376.6 676.8L379.2 676.9L381.8 676.9L384.4 677L387 677.1L389.6 677.2L392.2 677.3L394.8 677.4L397.4 677.5L400 677.6L402.6 677.7L405.2 677.8L407.8 677.9L410.4 678L413 678.1L415.6 678.2L418.2 678.3L420.8 678.4L423.4 678.5L426 678.7L428.6 678.8L431.2 678.9L433.8 679L436.4 679.1L439 679.2L441.6 679.3L444.2 679.5L446.8 679.6L449.4 679.7L452.1 679.8L454.7 679.9L457.3 680L459.9 680.2L462.5 680.3L465.1 680.4L467.7 680.5L470.3 680.6L472.9 680.8L475.5 680.9L478.1 681L480.7 681.1L483.3 681.3L485.9 681.4L488.5 681.5L491.1 681.7L493.7 681.8L496.3 681.9L498.9 682.1L501.5 682.2L504.1 682.3L506.7 682.5L509.3 682.6L511.9 682.8L514.5 682.9L517.1 683L519.7 683.2L522.3 683.3L524.9 683.5L527.5 683.6L530.1 683.8L532.7 683.9L535.3 684.1L537.9 684.2L540.5 684.4L543.1 684.5L545.7 684.7L548.3 684.8L550.9 685L553.5 685.1L556.1 685.3L558.7 685.4L561.3 685.6L563.9 685.7L566.5 685.9L569.1 686L571.7 686.2L574.3 686.3L576.9 686.5L579.5 686.6L582.1 686.8L584.7 686.9L587.3 687.1L589.9 687.2L592.5 687.4L595.1 687.5L597.7 687.7L600.3 687.8L602.9 688L605.5 688.1L608.1 688.3L610.7 688.4L613.3 688.6L615.9 688.7L618.5 688.9L621.1 689L623.7 689.2L626.3 689.3L628.9 689.5L631.5 689.6L634.1 689.8L636.7 689.9L639.3 690.1L641.9 690.2L644.5 690.4L647.1 690.5L649.7 690.7L652.3 690.8L654.9 691L657.5 691.1L660.1 691.3L662.7 691.4L665.3 691.6L667.9 691.8L670.5 691.9L673.1 692.1L675.7 692.2L678.3 692.4L680.9 692.6L683.5 692.7L686.1 692.9L688.7 693.1L691.3 693.2L693.9 693.4L696.5 693.6L699.1 693.8L701.7 694L704.3 694.2L706.9 694.4L709.5 694.6L712.2 694.8L714.8 695L717.4 695.2L720 695.4L722.6 695.6L725.2 695.9L727.8 696.1L730.4 696.3L733 696.5L735.6 696.7L738.2 697L740.8 697.2L743.4 697.4L746 697.7L748.6 697.9L751.2 698.2L753.8 698.4L756.4 698.6L759 698.9L761.6 699.1L764.2 699.4L766.8 699.6L769.4 699.9L772 700.1L774.6 700.4L777.2 700.6L779.8 700.9L782.4 701.1L785 701.4L787.6 701.6L790.2 701.9L792.8 702.2L795.4 702.4L798 702.7L800.6 702.9L803.2 703.2L805.8 703.4L808.4 703.7L811 704L813.6 704.2L816.2 704.5L818.8 704.7L821.4 705L824 705.2L826.6 705.5L829.2 705.8L831.8 706L834.4 706.3L837 706.5L839.6 706.8L842.2 707L844.8 707.3L847.4 707.5L850 707.7L852.6 708L855.2 708.2L857.8 708.5L860.4 708.7L863 709L865.6 709.2L868.2 709.4L870.8 709.7L873.4 709.9L876 710.1L878.6 710.3L881.2 710.6L883.8 710.8L886.4 711L889 711.2L891.6 711.4L894.2 711.6L896.8 711.9L899.4 712.1L902 712.3L904.6 712.5L907.2 712.7L909.8 712.9L912.4 713.1L915 713.3L917.6 713.5L920.2 713.8L922.8 714L925.4 714.2L928 714.4L930.6 714.6L933.2 714.8L935.8 715L938.4 715.2L941 715.4L943.6 715.6L946.2 715.8L948.8 716L951.4 716.2L954 716.4L956.6 716.6L959.2 716.8L961.8 717L964.4 717.2L967 717.4L969.6 717.6L972.3 717.8L974.9 718L977.5 718.2L980.1 718.4L982.7 718.6L985.3 718.8L987.9 719L990.5 719.2L993.1 719.4L995.7 719.7L998.3 719.9L1000.9 720.1L1003.5 720.3L1006.1 720.5L1008.7 720.7L1011.3 720.9L1013.9 721.1L1016.5 721.3L1019.1 721.5L1021.7 721.7L1024.3 721.9L1026.9 722.1L1029.5 722.3L1032.1 722.5L1034.7 722.8L1037.3 723L1039.9 723.2L1042.5 723.4L1045.1 723.6L1047.7 723.8L1050.3 724L1052.9 724.3L1055.5 724.5L1058.1 724.7L1060.7 724.9L1063.3 725.1L1065.9 725.4L1068.5 725.6L1071.1 725.8L1073.7 726L1076.3 726.3L1078.9 726.5L1081.5 726.7L1084.1 727L1086.7 727.2L1089.3 727.5L1091.9 727.7L1094.5 728L1097.1 728.2L1099.7 728.5L1102.3 728.8L1104.9 729L1107.5 729.3L1110.1 729.6L1112.7 729.9L1115.3 730.2L1117.9 730.4L1120.5 730.7L1123.1 731L1125.7 731.3L1128.3 731.5L1130.9 731.8L1133.5 732.1L1136.1 732.4L1138.7 732.7L1141.3 733L1143.9 733.3L1146.5 733.6L1149.1 733.9L1151.7 734.2L1154.3 734.5L1156.9 734.8L1159.5 735.1L1162.1 735.4L1164.7 735.7L1167.3 736L1169.9 736.4L1172.5 736.7L1175.1 737L1177.7 737.3L1180.3 737.7L1182.9 738L1185.5 738.4L1188.1 738.8L1190.7 739.3L1193.3 739.8L1195.9 740.3L1198.5 740.8L1201.1 741.4L1203.7 742L1206.3 742.6L1208.9 743.2L1211.5 743.9L1214.1 744.6L1216.7 745.3L1219.3 746.1L1221.9 747L1224.5 747.9L1227.1 749L1229.7 750L1232.4 751.2L1235 752.4L1237.6 753.6L1240.2 755L1242.8 756.4L1245.4 757.9L1248 759.4L1250.6 761L1253.2 762.7L1255.8 764.4L1258.4 766.2L1261 768.1L1263.6 770L1266.2 772L1268.8 774.1L1271.4 776.3L1274 778.6L1276.6 780.9L1279.2 783.4L1281.8 786.1L1284.4 788.8L1287 791.7L1289.6 794.6L1292.2 797.7L1294.8 800.9L1297.4 804.3L1300 807.8L1302.6 811.4L1305.2 815.2L1307.8 819.2L1310.4 823.3L1313 827.6L1315.6 832L1318.2 836.6L1320.8 841.4L1323.4 846.5L1326 851.8L1328.6 857.3L1331.2 863.1L1333.8 869L1336.4 874.9L1339 881L1341.6 887.2L1344.2 893.4L1346.8 899.7L1349.4 906L1352 912.4L1354.6 918.7L1357.2 925L1359.8 931.3L1362.4 937.5L1365 943.7L1367.6 950L1370.2 956.3L1372.8 962.7L1375.4 969.1L1378 975.3L1380.6 981.4L1383.2 987.3L1385.8 993L1388.4 998.3L1391 1003.4L1393.6 1008.2L1396.2 1012.8L1398.8 1017.2L1401.4 1021.3L1404 1025.1L1406.6 1028.7L1409.2 1032.1L1411.8 1035.2L1414.4 1038L1417 1040.4L1419.6 1042.4L1422.2 1043.8L1424.8 1044.8L1427.4 1045.2L1430 1045.2L1432.6 1044.6L1435.2 1043.6L1437.8 1042.1L1440.4 1040.1L1443 1037.6L1445.6 1034.5L1448.2 1030.9L1450.8 1026.9L1453.4 1022.6L1456 1017.9L1458.6 1013L1461.2 1007.8L1463.8 1002.2L1466.4 996.4L1469 990.4L1471.6 984.2L1474.2 977.9L1476.8 971.4L1479.4 964.9L1482 958.2L1484.6 951.3L1487.2 944.2L1489.8 936.9L1492.5 929.3L1495.1 921.6L1497.7 914.2L1500.3 907L1502.9 900.4L1505.5 894.1L1508.1 888.1L1510.7 882.2L1513.3 876.3L1515.9 870.4L1518.5 864.6L1521.1 858.7L1523.7 852.9L1526.3 847L1528.9 841.2L1531.5 835.3L1534.1 829.5L1536.7 823.7L1539.3 818L1541.9 812.5L1544.5 807.1L1547.1 802.1L1549.7 797.2L1552.3 792.6L1554.9 788.1L1557.5 783.8L1560.1 779.6L1562.7 775.6L1565.3 771.7L1567.9 768L1570.5 764.5L1573.1 761.2L1575.7 758L1578.3 754.9L1580.9 751.9L1583.5 749.1L1586.1 746.5L1588.7 744L1591.3 741.6L1593.9 739.4L1596.5 737.2L1599.1 735.2L1601.7 733.2L1604.3 731.3L1606.9 729.5L1609.5 727.7L1612.1 726L1614.7 724.4L1617.3 722.9L1619.9 721.4L1622.5 719.9L1625.1 718.4L1627.7 717L1630.3 715.7L1632.9 714.3L1635.5 713.1L1638.1 711.9L1640.7 710.7L1643.3 709.6L1645.9 708.6L1648.5 707.7L1651.1 706.7L1653.7 705.8L1656.3 705L1658.9 704.1L1661.5 703.3L1664.1 702.6L1666.7 701.8L1669.3 701.1L1671.9 700.5L1674.5 699.9L1677.1 699.3L1679.7 698.7L1682.3 698.2L1684.9 697.7L1687.5 697.2L1690.1 696.7L1692.7 696.2L1695.3 695.7L1697.9 695.2L1700.5 694.8L1703.1 694.3L1705.7 693.9L1708.3 693.5L1710.9 693.1L1713.5 692.6L1716.1 692.2L1718.7 691.8L1721.3 691.5L1723.9 691.1L1726.5 690.7L1729.1 690.4L1731.7 690L1734.3 689.7L1736.9 689.4L1739.5 689.1L1742.1 688.8L1744.7 688.5L1747.3 688.2L1749.9 688L1752.6 687.7L1755.2 687.4L1757.8 687.2L1760.4 687L1763 686.8L1765.6 686.5L1768.2 686.3L1770.8 686.1L1773.4 685.9L1776 685.7L1778.6 685.5L1781.2 685.3L1783.8 685.1L1786.4 684.9L1789 684.7L1791.6 684.5L1794.2 684.4L1796.8 684.2L1799.4 684L1802 683.8L1804.6 683.7L1807.2 683.5L1809.8 683.4L1812.4 683.2L1815 683.1L1817.6 682.9L1820.2 682.8L1822.8 682.7L1825.4 682.6L1828 682.4L1830.6 682.3L1833.2 682.2L1835.8 682.1L1838.4 682L1841 681.9L1843.6 681.8L1846.2 681.7L1848.8 681.6L1851.4 681.5L1854 681.4L1856.6 681.3L1859.2 681.2L1861.8 681.1L1864.4 681.1L1867 681L1869.6 680.9L1872.2 680.9L1874.8 680.8L1877.4 680.8L1880 680.7" fill="none" stroke="#000000" stroke-width="5.7" stroke-linecap="round" stroke-linejoin="round"/>
<path d="M313 677.5L315.7 677.5L318.3 677.5L321 677.6L323.6 677.6L326.3 677.6L328.9 677.6L331.6 677.7L334.3 677.7L336.9 677.7L339.6 677.7L342.2 677.8L344.9 677.8L347.5 677.8L350.2 677.9L352.9 677.9L355.5 677.9L358.2 678L360.8 678L363.5 678L366.1 678.1L368.8 678.1L371.5 678.1L374.1 678.2L376.8 678.2L379.4 678.2L382.1 678.3L384.7 678.3L387.4 678.4L390.1 678.4L392.7 678.5L395.4 678.5L398 678.5L400.7 678.6L403.3 678.6L406 678.7L408.6 678.7L411.3 678.8L414 678.8L416.6 678.9L419.3 679L421.9 679L424.6 679.1L427.2 679.1L429.9 679.2L432.6 679.2L435.2 679.3L437.9 679.4L440.5 679.4L443.2 679.5L445.8 679.6L448.5 679.6L451.2 679.7L453.8 679.8L456.5 679.8L459.1 679.9L461.8 680L464.4 680.1L467.1 680.1L469.8 680.2L472.4 680.3L475.1 680.4L477.7 680.4L480.4 680.5L483 680.6L485.7 680.7L488.4 680.8L491 680.9L493.7 680.9L496.3 681L499 681.1L501.6 681.2L504.3 681.3L507 681.4L509.6 681.5L512.3 681.6L514.9 681.6L517.6 681.7L520.2 681.8L522.9 681.9L525.6 682L528.2 682.1L530.9 682.2L533.5 682.3L536.2 682.4L538.8 682.5L541.5 682.6L544.2 682.7L546.8 682.7L549.5 682.8L552.1 682.9L554.8 683L557.4 683.1L560.1 683.2L562.8 683.3L565.4 683.4L568.1 683.5L570.7 683.6L573.4 683.7L576 683.8L578.7 683.9L581.3 684L584 684.1L586.7 684.2L589.3 684.3L592 684.4L594.6 684.6L597.3 684.7L599.9 684.8L602.6 684.9L605.3 685L607.9 685.1L610.6 685.2L613.2 685.3L615.9 685.4L618.5 685.5L621.2 685.6L623.9 685.8L626.5 685.9L629.2 686L631.8 686.1L634.5 686.2L637.1 686.3L639.8 686.4L642.5 686.6L645.1 686.7L647.8 686.8L650.4 686.9L653.1 687L655.7 687.2L658.4 687.3L661.1 687.4L663.7 687.5L666.4 687.7L669 687.8L671.7 687.9L674.3 688L677 688.2L679.7 688.3L682.3 688.4L685 688.5L687.6 688.7L690.3 688.8L692.9 688.9L695.6 689.1L698.3 689.2L700.9 689.3L703.6 689.4L706.2 689.6L708.9 689.7L711.5 689.8L714.2 690L716.9 690.1L719.5 690.2L722.2 690.4L724.8 690.5L727.5 690.6L730.1 690.8L732.8 690.9L735.5 691L738.1 691.2L740.8 691.3L743.4 691.4L746.1 691.6L748.7 691.7L751.4 691.8L754.1 691.9L756.7 692.1L759.4 692.2L762 692.3L764.7 692.5L767.3 692.6L770 692.8L772.6 692.9L775.3 693L778 693.2L780.6 693.3L783.3 693.4L785.9 693.6L788.6 693.7L791.2 693.8L793.9 694L796.6 694.1L799.2 694.2L801.9 694.4L804.5 694.5L807.2 694.6L809.8 694.8L812.5 694.9L815.2 695.1L817.8 695.2L820.5 695.3L823.1 695.5L825.8 695.6L828.4 695.7L831.1 695.9L833.8 696L836.4 696.2L839.1 696.3L841.7 696.4L844.4 696.6L847 696.7L849.7 696.8L852.4 697L855 697.1L857.7 697.3L860.3 697.4L863 697.5L865.6 697.7L868.3 697.8L871 698L873.6 698.1L876.3 698.2L878.9 698.4L881.6 698.5L884.2 698.7L886.9 698.8L889.6 699L892.2 699.1L894.9 699.2L897.5 699.4L900.2 699.5L902.8 699.7L905.5 699.8L908.2 700L910.8 700.1L913.5 700.2L916.1 700.4L918.8 700.5L921.4 700.7L924.1 700.8L926.8 701L929.4 701.1L932.1 701.3L934.7 701.4L937.4 701.5L940 701.7L942.7 701.8L945.3 702L948 702.1L950.7 702.3L953.3 702.4L956 702.6L958.6 702.7L961.3 702.9L963.9 703L966.6 703.2L969.3 703.3L971.9 703.5L974.6 703.6L977.2 703.7L979.9 703.9L982.5 704L985.2 704.2L987.9 704.3L990.5 704.5L993.2 704.6L995.8 704.8L998.5 704.9L1001.1 705.1L1003.8 705.2L1006.5 705.4L1009.1 705.5L1011.8 705.7L1014.4 705.8L1017.1 706L1019.7 706.1L1022.4 706.3L1025.1 706.4L1027.7 706.6L1030.4 706.7L1033 706.9L1035.7 707L1038.3 707.2L1041 707.4L1043.7 707.5L1046.3 707.7L1049 707.8L1051.6 708L1054.3 708.1L1056.9 708.3L1059.6 708.4L1062.3 708.6L1064.9 708.7L1067.6 708.9L1070.2 709L1072.9 709.2L1075.5 709.3L1078.2 709.5L1080.9 709.7L1083.5 709.8L1086.2 710L1088.8 710.1L1091.5 710.3L1094.1 710.4L1096.8 710.6L1099.5 710.8L1102.1 710.9L1104.8 711.1L1107.4 711.3L1110.1 711.5L1112.7 711.6L1115.4 711.8L1118 712L1120.7 712.2L1123.4 712.3L1126 712.5L1128.7 712.7L1131.3 712.9L1134 713.1L1136.6 713.2L1139.3 713.4L1142 713.6L1144.6 713.8L1147.3 714L1149.9 714.2L1152.6 714.4L1155.2 714.6L1157.9 714.8L1160.6 715L1163.2 715.1L1165.9 715.3L1168.5 715.5L1171.2 715.7L1173.8 715.9L1176.5 716.1L1179.2 716.3L1181.8 716.5L1184.5 716.7L1187.1 716.9L1189.8 717.1L1192.4 717.3L1195.1 717.6L1197.8 717.8L1200.4 718L1203.1 718.2L1205.7 718.4L1208.4 718.7L1211 718.9L1213.7 719.1L1216.4 719.4L1219 719.6L1221.7 719.8L1224.3 720.1L1227 720.3L1229.6 720.6L1232.3 720.8L1235 721.1L1237.6 721.3L1240.3 721.6L1242.9 721.8L1245.6 722.1L1248.2 722.3L1250.9 722.6L1253.6 722.8L1256.2 723.1L1258.9 723.3L1261.5 723.6L1264.2 723.9L1266.8 724.1L1269.5 724.4L1272.2 724.6L1274.8 724.9L1277.5 725.2L1280.1 725.4L1282.8 725.7L1285.4 726L1288.1 726.2L1290.7 726.5L1293.4 726.8L1296.1 727.1L1298.7 727.4L1301.4 727.7L1304 728L1306.7 728.3L1309.3 728.6L1312 729L1314.7 729.3L1317.3 729.6L1320 730L1322.6 730.3L1325.3 730.7L1327.9 731L1330.6 731.4L1333.3 731.7L1335.9 732.1L1338.6 732.5L1341.2 732.9L1343.9 733.3L1346.5 733.8L1349.2 734.2L1351.9 734.7L1354.5 735.1L1357.2 735.6L1359.8 736.1L1362.5 736.6L1365.1 737.1L1367.8 737.6L1370.5 738.1L1373.1 738.6L1375.8 739.2L1378.4 739.7L1381.1 740.2L1383.7 740.8L1386.4 741.3L1389.1 741.9L1391.7 742.5L1394.4 743L1397 743.6L1399.7 744.3L1402.3 744.9L1405 745.5L1407.7 746.2L1410.3 746.9L1413 747.6L1415.6 748.3L1418.3 749.1L1420.9 749.8L1423.6 750.6L1426.3 751.4L1428.9 752.3L1431.6 753.2L1434.2 754.1L1436.9 755L1439.5 756L1442.2 757L1444.9 758L1447.5 759.1L1450.2 760.1L1452.8 761.2L1455.5 762.3L1458.1 763.3L1460.8 764.5L1463.4 765.6L1466.1 766.8L1468.8 768L1471.4 769.2L1474.1 770.5L1476.7 771.8L1479.4 773.1L1482 774.5L1484.7 775.9L1487.4 777.3L1490 778.7L1492.7 780.1L1495.3 781.6L1498 783.1L1500.6 784.6L1503.3 786.2L1506 787.8L1508.6 789.4L1511.3 791L1513.9 792.7L1516.6 794.5L1519.2 796.2L1521.9 798.1L1524.6 799.9L1527.2 801.8L1529.9 803.8L1532.5 805.8L1535.2 807.8L1537.8 809.9L1540.5 812L1543.2 814.2L1545.8 816.4L1548.5 818.6L1551.1 820.8L1553.8 823L1556.4 825.2L1559.1 827.4L1561.8 829.6L1564.4 831.8L1567.1 834L1569.7 836.2L1572.4 838.4L1575 840.7L1577.7 842.9L1580.4 845.1L1583 847.3L1585.7 849.4L1588.3 851.6L1591 853.8L1593.6 856L1596.3 858.2L1599 860.3L1601.6 862.5L1604.3 864.7L1606.9 866.9L1609.6 869.1L1612.2 871.4L1614.9 873.7L1617.6 875.9L1620.2 878.1L1622.9 880.3L1625.5 882.4L1628.2 884.4L1630.8 886.4L1633.5 888.3L1636.2 890.2L1638.8 892.1L1641.5 893.9L1644.1 895.7L1646.8 897.4L1649.4 899.1L1652.1 900.8L1654.7 902.4L1657.4 903.9L1660.1 905.4L1662.7 906.8L1665.4 908.1L1668 909.3L1670.7 910.5L1673.3 911.6L1676 912.6L1678.7 913.5L1681.3 914.4L1684 915.2L1686.6 916L1689.3 916.6L1691.9 917.2L1694.6 917.6L1697.3 918L1699.9 918.2L1702.6 918.3L1705.2 918.2L1707.9 918.1L1710.5 917.8L1713.2 917.4L1715.9 916.8L1718.5 916.2L1721.2 915.4L1723.8 914.5L1726.5 913.5L1729.1 912.4L1731.8 911.2L1734.5 909.9L1737.1 908.6L1739.8 907.1L1742.4 905.6L1745.1 904L1747.7 902.4L1750.4 900.7L1753.1 899L1755.7 897.2L1758.4 895.4L1761 893.5L1763.7 891.5L1766.3 889.5L1769 887.3L1771.7 885.1L1774.3 882.9L1777 880.6L1779.6 878.3L1782.3 876L1784.9 873.6L1787.6 871.2L1790.3 868.8L1792.9 866.3L1795.6 863.9L1798.2 861.3L1800.9 858.8L1803.5 856.2L1806.2 853.6L1808.9 851L1811.5 848.5L1814.2 845.9L1816.8 843.4L1819.5 840.9L1822.1 838.5L1824.8 836.1L1827.4 833.7L1830.1 831.4L1832.8 829L1835.4 826.7L1838.1 824.3L1840.7 822L1843.4 819.7L1846 817.4L1848.7 815.1L1851.4 812.8L1854 810.5L1856.7 808.2L1859.3 805.9L1862 803.7L1864.6 801.4L1867.3 799.2L1870 796.9L1872.6 794.7L1875.3 792.5L1877.9 790.3L1880.6 788.2L1883.2 786L1885.9 783.9L1888.6 781.8L1891.2 779.8L1893.9 777.7L1896.5 775.7L1899.2 773.7L1901.8 771.8L1904.5 769.8" fill="none" stroke="#FF9900" stroke-width="5.7" stroke-linecap="round" stroke-linejoin="round"/>
<line x1="1427.8" y1="634.9" x2="1427.8" y2="1204" stroke="#000000" stroke-width="5.5"/>
<path d="M352 674.1L354.5 674.1L357.1 674.2L359.6 674.2L362.2 674.2L364.7 674.2L367.3 674.3L369.8 674.3L372.4 674.3L374.9 674.4L377.4 674.4L380 674.4L382.5 674.5L385.1 674.5L387.6 674.5L390.2 674.6L392.7 674.6L395.3 674.6L397.8 674.7L400.4 674.7L402.9 674.8L405.4 674.8L408 674.8L410.5 674.9L413.1 674.9L415.6 674.9L418.2 675L420.7 675L423.3 675.1L425.8 675.1L428.3 675.1L430.9 675.2L433.4 675.2L436 675.3L438.5 675.3L441.1 675.4L443.6 675.4L446.2 675.4L448.7 675.5L451.2 675.5L453.8 675.6L456.3 675.6L458.9 675.7L461.4 675.7L464 675.8L466.5 675.8L469.1 675.8L471.6 675.9L474.1 675.9L476.7 676L479.2 676L481.8 676.1L484.3 676.1L486.9 676.2L489.4 676.2L492 676.3L494.5 676.3L497.1 676.4L499.6 676.4L502.1 676.5L504.7 676.5L507.2 676.6L509.8 676.6L512.3 676.6L514.9 676.7L517.4 676.7L520 676.8L522.5 676.8L525 676.9L527.6 676.9L530.1 677L532.7 677L535.2 677.1L537.8 677.2L540.3 677.2L542.9 677.3L545.4 677.3L547.9 677.4L550.5 677.4L553 677.5L555.6 677.5L558.1 677.6L560.7 677.6L563.2 677.7L565.8 677.8L568.3 677.8L570.8 677.9L573.4 677.9L575.9 678L578.5 678L581 678.1L583.6 678.2L586.1 678.2L588.7 678.3L591.2 678.4L593.8 678.4L596.3 678.5L598.8 678.5L601.4 678.6L603.9 678.7L606.5 678.7L609 678.8L611.6 678.9L614.1 678.9L616.7 679L619.2 679.1L621.7 679.2L624.3 679.2L626.8 679.3L629.4 679.4L631.9 679.4L634.5 679.5L637 679.6L639.6 679.7L642.1 679.7L644.6 679.8L647.2 679.9L649.7 680L652.3 680.1L654.8 680.1L657.4 680.2L659.9 680.3L662.5 680.4L665 680.5L667.5 680.6L670.1 680.7L672.6 680.7L675.2 680.8L677.7 680.9L680.3 681L682.8 681.1L685.4 681.2L687.9 681.3L690.5 681.4L693 681.5L695.5 681.6L698.1 681.7L700.6 681.8L703.2 681.9L705.7 682L708.3 682.1L710.8 682.2L713.4 682.3L715.9 682.4L718.4 682.5L721 682.6L723.5 682.7L726.1 682.8L728.6 682.9L731.2 683L733.7 683.1L736.3 683.2L738.8 683.3L741.3 683.4L743.9 683.5L746.4 683.7L749 683.8L751.5 683.9L754.1 684L756.6 684.1L759.2 684.2L761.7 684.3L764.2 684.5L766.8 684.6L769.3 684.7L771.9 684.8L774.4 684.9L777 685L779.5 685.2L782.1 685.3L784.6 685.4L787.2 685.5L789.7 685.6L792.2 685.8L794.8 685.9L797.3 686L799.9 686.1L802.4 686.3L805 686.4L807.5 686.5L810.1 686.6L812.6 686.8L815.1 686.9L817.7 687L820.2 687.1L822.8 687.3L825.3 687.4L827.9 687.5L830.4 687.7L833 687.8L835.5 687.9L838 688L840.6 688.2L843.1 688.3L845.7 688.4L848.2 688.6L850.8 688.7L853.3 688.8L855.9 689L858.4 689.1L860.9 689.2L863.5 689.4L866 689.5L868.6 689.6L871.1 689.8L873.7 689.9L876.2 690L878.8 690.2L881.3 690.3L883.9 690.5L886.4 690.6L888.9 690.7L891.5 690.9L894 691L896.6 691.1L899.1 691.3L901.7 691.4L904.2 691.5L906.8 691.7L909.3 691.8L911.8 692L914.4 692.1L916.9 692.2L919.5 692.4L922 692.5L924.6 692.6L927.1 692.8L929.7 692.9L932.2 693.1L934.7 693.2L937.3 693.3L939.8 693.5L942.4 693.6L944.9 693.8L947.5 693.9L950 694L952.6 694.2L955.1 694.3L957.6 694.4L960.2 694.6L962.7 694.7L965.3 694.9L967.8 695L970.4 695.1L972.9 695.3L975.5 695.4L978 695.6L980.6 695.7L983.1 695.8L985.6 696L988.2 696.1L990.7 696.3L993.3 696.4L995.8 696.5L998.4 696.7L1000.9 696.8L1003.5 697L1006 697.1L1008.5 697.3L1011.1 697.4L1013.6 697.5L1016.2 697.7L1018.7 697.8L1021.3 698L1023.8 698.1L1026.4 698.3L1028.9 698.4L1031.4 698.5L1034 698.7L1036.5 698.8L1039.1 699L1041.6 699.1L1044.2 699.3L1046.7 699.4L1049.3 699.5L1051.8 699.7L1054.3 699.8L1056.9 700L1059.4 700.1L1062 700.3L1064.5 700.4L1067.1 700.6L1069.6 700.7L1072.2 700.8L1074.7 701L1077.3 701.1L1079.8 701.3L1082.3 701.4L1084.9 701.6L1087.4 701.7L1090 701.9L1092.5 702L1095.1 702.2L1097.6 702.3L1100.2 702.5L1102.7 702.6L1105.2 702.8L1107.8 702.9L1110.3 703.1L1112.9 703.2L1115.4 703.4L1118 703.6L1120.5 703.7L1123.1 703.9L1125.6 704L1128.1 704.2L1130.7 704.3L1133.2 704.5L1135.8 704.6L1138.3 704.8L1140.9 705L1143.4 705.1L1146 705.3L1148.5 705.4L1151 705.6L1153.6 705.7L1156.1 705.9L1158.7 706L1161.2 706.2L1163.8 706.3L1166.3 706.5L1168.9 706.7L1171.4 706.8L1174 707L1176.5 707.1L1179 707.3L1181.6 707.4L1184.1 707.6L1186.7 707.7L1189.2 707.8L1191.8 708L1194.3 708.1L1196.9 708.3L1199.4 708.4L1201.9 708.5L1204.5 708.7L1207 708.8L1209.6 708.9L1212.1 709L1214.7 709.2L1217.2 709.3L1219.8 709.4L1222.3 709.5L1224.8 709.7L1227.4 709.8L1229.9 709.9L1232.5 710L1235 710.1L1237.6 710.3L1240.1 710.4L1242.7 710.5L1245.2 710.6L1247.7 710.7L1250.3 710.9L1252.8 711L1255.4 711.1L1257.9 711.2L1260.5 711.3L1263 711.5L1265.6 711.6L1268.1 711.7L1270.7 711.9L1273.2 712L1275.7 712.1L1278.3 712.3L1280.8 712.4L1283.4 712.5L1285.9 712.7L1288.5 712.8L1291 713L1293.6 713.2L1296.1 713.3L1298.6 713.5L1301.2 713.7L1303.7 713.9L1306.3 714.1L1308.8 714.3L1311.4 714.5L1313.9 714.8L1316.5 715L1319 715.2L1321.5 715.4L1324.1 715.6L1326.6 715.9L1329.2 716.1L1331.7 716.3L1334.3 716.6L1336.8 716.8L1339.4 717.1L1341.9 717.4L1344.4 717.7L1347 718L1349.5 718.4L1352.1 718.7L1354.6 719.1L1357.2 719.5L1359.7 719.9L1362.3 720.3L1364.8 720.8L1367.4 721.3L1369.9 721.8L1372.4 722.4L1375 723.1L1377.5 723.8L1380.1 724.5L1382.6 725.2L1385.2 726L1387.7 726.8L1390.3 727.7L1392.8 728.6L1395.3 729.7L1397.9 730.7L1400.4 731.9L1403 733.1L1405.5 734.4L1408.1 735.8L1410.6 737.3L1413.2 739L1415.7 740.8L1418.2 742.7L1420.8 744.6L1423.3 746.7L1425.9 748.9L1428.4 751.2L1431 753.6L1433.5 756.2L1436.1 758.9L1438.6 761.7L1441.1 764.5L1443.7 767.5L1446.2 770.5L1448.8 773.6L1451.3 776.8L1453.9 780.3L1456.4 783.9L1459 787.9L1461.5 792.3L1464.1 797.1L1466.6 802.2L1469.1 807.6L1471.7 813.2L1474.2 818.9L1476.8 824.8L1479.3 830.7L1481.9 836.6L1484.4 842.5L1487 848.5L1489.5 854.6L1492 860.9L1494.6 867.5L1497.1 874.4L1499.7 881.6L1502.2 889.2L1504.8 897.1L1507.3 905.2L1509.9 913.6L1512.4 922.3L1514.9 931.1L1517.5 940.2L1520 949.5L1522.6 958.8L1525.1 968.2L1527.7 977.5L1530.2 986.7L1532.8 995.9L1535.3 1005L1537.8 1014L1540.4 1022.7L1542.9 1031.2L1545.5 1039.5L1548 1047.7L1550.6 1055.9L1553.1 1064L1555.7 1072L1558.2 1079.9L1560.8 1087.5L1563.3 1094.9L1565.8 1101.9L1568.4 1108.3L1570.9 1114.2L1573.5 1119.7L1576 1124.8L1578.6 1129.4L1581.1 1133.5L1583.7 1137L1586.2 1139.5L1588.7 1141.2L1591.3 1141.9L1593.8 1141.7L1596.4 1140.7L1598.9 1138.9L1601.5 1136.4L1604 1133L1606.6 1128.9L1609.1 1124L1611.6 1118.5L1614.2 1112.3L1616.7 1105.5L1619.3 1098.1L1621.8 1090.3L1624.4 1082.1L1626.9 1073.7L1629.5 1065.5L1632 1057.4L1634.5 1049.6L1637.1 1042L1639.6 1034.3L1642.2 1026.5L1644.7 1018.3L1647.3 1009.9L1649.8 1001.2L1652.4 992.2L1654.9 982.9L1657.5 973.5L1660 964L1662.5 954.3L1665.1 944.6L1667.6 934.9L1670.2 925.3L1672.7 915.9L1675.3 906.6L1677.8 897.5L1680.4 888.6L1682.9 879.9L1685.4 871.5L1688 863.5L1690.5 856L1693.1 848.8L1695.6 842L1698.2 835.3L1700.7 828.9L1703.3 822.6L1705.8 816.4L1708.3 810.4L1710.9 804.5L1713.4 798.9L1716 793.5L1718.5 788.3L1721.1 783.5L1723.6 778.9L1726.2 774.7L1728.7 770.7L1731.2 766.9L1733.8 763.4L1736.3 760L1738.9 756.7L1741.4 753.5L1744 750.5L1746.5 747.5L1749.1 744.6L1751.6 741.8L1754.2 739L1756.7 736.3L1759.2 733.7L1761.8 731.1L1764.3 728.6L1766.9 726.2L1769.4 724L1772 721.9L1774.5 720.1L1777.1 718.4L1779.6 716.8L1782.1 715.4L1784.7 714.2L1787.2 713L1789.8 711.9L1792.3 710.8L1794.9 709.8L1797.4 708.9L1800 708L1802.5 707.1L1805 706.2L1807.6 705.3L1810.1 704.4L1812.7 703.6L1815.2 702.8L1817.8 702L1820.3 701.3L1822.9 700.7L1825.4 700.1L1827.9 699.6L1830.5 699.1L1833 698.7L1835.6 698.2L1838.1 697.8L1840.7 697.4L1843.2 696.9L1845.8 696.5L1848.3 696.1L1850.9 695.7L1853.4 695.2L1855.9 694.8L1858.5 694.4L1861 693.9L1863.6 693.5L1866.1 693.1L1868.7 692.6L1871.2 692.2L1873.8 691.8L1876.3 691.4" fill="none" stroke="#00B0F0" stroke-width="5.7" stroke-linecap="round" stroke-linejoin="round"/>
<g font-family="Liberation Sans, sans-serif" fill="#000">
<text transform="translate(249.8,627.2) scale(0.9790,1)" font-size="70.9" text-anchor="end">0.0</text>
<text transform="translate(249.8,518.9) scale(0.9790,1)" font-size="70.9" text-anchor="end">0.2</text>
<text transform="translate(249.8,410.6) scale(0.9790,1)" font-size="70.9" text-anchor="end">0.4</text>
<text transform="translate(249.8,302.2) scale(0.9790,1)" font-size="70.9" text-anchor="end">0.6</text>
<text transform="translate(249.8,193.9) scale(0.9790,1)" font-size="70.9" text-anchor="end">0.8</text>
<text transform="translate(249.8,85.6) scale(0.9790,1)" font-size="70.9" text-anchor="end">1.0</text>
<text transform="translate(249.8,690.1) scale(0.9790,1)" font-size="70.9" text-anchor="end">0.0</text>
<text transform="translate(249.8,1045.2) scale(0.9790,1)" font-size="70.9" text-anchor="end">-0.1</text>
<text transform="translate(286,1298.8) scale(0.9900,1)" font-size="76" text-anchor="middle">10</text>
<text transform="translate(611.8,1298.8) scale(0.9900,1)" font-size="76" text-anchor="middle">20</text>
<text transform="translate(937.6,1298.8) scale(0.9900,1)" font-size="76" text-anchor="middle">30</text>
<text transform="translate(1263.4,1298.8) scale(0.9900,1)" font-size="76" text-anchor="middle">40</text>
<text transform="translate(1589.2,1298.8) scale(0.9900,1)" font-size="76" text-anchor="middle">50</text>
<text transform="translate(1915,1298.8) scale(0.9900,1)" font-size="76" text-anchor="middle">60</text>
<text transform="translate(1100.5,1413.5) scale(0.9620,1)" font-size="99.7" text-anchor="middle">T /°C</text>
<text transform="translate(121,350) rotate(-90) scale(0.9620,1)" font-size="99.7" text-anchor="middle">S</text>
<text transform="translate(103.8,948.4) rotate(-90) scale(0.9620,1)" font-size="99.7" text-anchor="middle">dS /dT</text>
<text transform="translate(1440.2,110.2) scale(1.0100,1)" font-size="59.5">45</text>
<text transform="translate(1600.4,110.2)" font-size="59.5">50</text>
<text transform="translate(1712.3,110.2) scale(0.9660,1)" font-size="59.5">53.4</text>
<text transform="translate(524,384.6) scale(0.9570,1)" font-size="77.5">H-pNIPMAM</text>
<text transform="translate(524,474.7) scale(0.9570,1)" font-size="77.5">D7-pNIPMAM</text>
<text transform="translate(524,564.8) scale(0.9570,1)" font-size="77.5">D12-pNIPMAM</text>
</g>
<rect x="407.5" y="345.3" width="27.3" height="27.3" fill="#fff" stroke="#000" stroke-width="5"/>
<circle cx="421.1" cy="449.7" r="15.8" fill="#fff" stroke="#FF9900" stroke-width="4.7"/>
<g fill="#fff" stroke="#00B0F0" stroke-width="4.5" stroke-linejoin="round"><path d="M421.6 517.3L440.9 550.8L402.2 550.8Z"/></g>
<line x1="1042.4" y1="359.6" x2="1206.4" y2="359.6" stroke="#000000" stroke-width="6" stroke-linecap="round"/>
<line x1="1042.4" y1="449.9" x2="1206.4" y2="449.9" stroke="#FF9900" stroke-width="6" stroke-linecap="round"/>
<line x1="1042.4" y1="540.2" x2="1206.4" y2="540.2" stroke="#00B0F0" stroke-width="6" stroke-linecap="round"/>
</svg>
</body></html>
